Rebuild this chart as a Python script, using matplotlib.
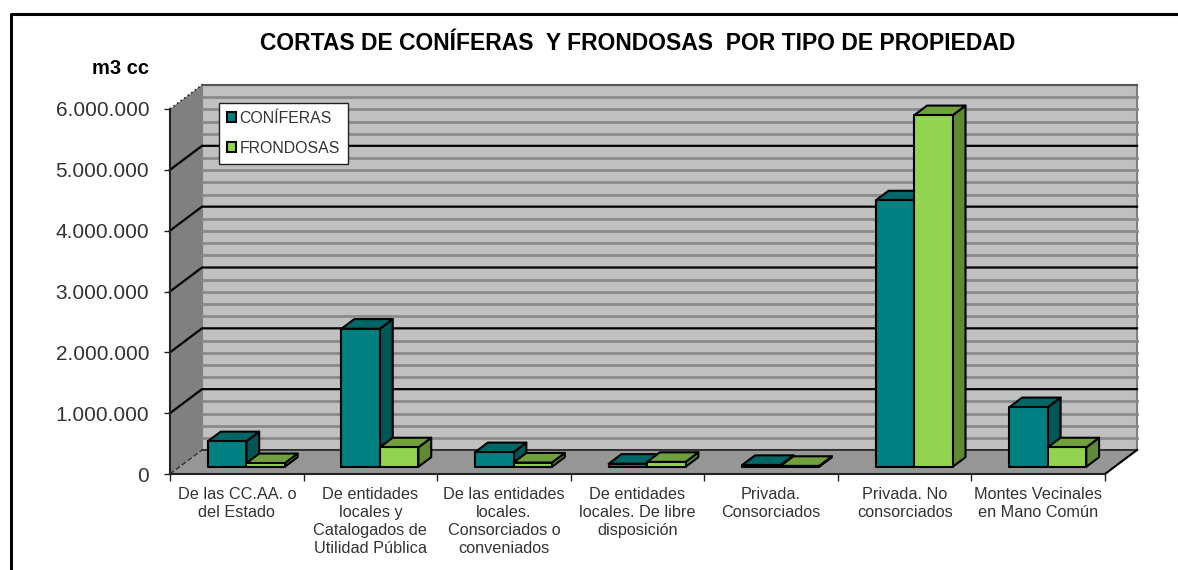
import matplotlib
matplotlib.use('Agg')
import matplotlib.pyplot as plt
from matplotlib.patches import Polygon

categorias = ['De las CC.AA. o\ndel Estado',
              'De entidades\nlocales y\nCatalogados de\nUtilidad Pública',
              'De las entidades\nlocales.\nConsorciados o\nconveniados',
              'De entidades\nlocales. De libre\ndisposición',
              'Privada.\nConsorciados',
              'Privada. No\nconsorciados',
              'Montes Vecinales\nen Mano Común']
coniferas = [420000, 2270000, 240000, 50000, 30000, 4380000, 980000]
frondosas = [60000, 320000, 70000, 80000, 15000, 5780000, 320000]
ticks = [0, 1000000, 2000000, 3000000, 4000000, 5000000, 6000000]
tick_labels = ['0', '1.000.000', '2.000.000', '3.000.000', '4.000.000', '5.000.000', '6.000.000']

W, H = 1178, 570
plt.rcParams['font.family'] = ['Liberation Sans', 'DejaVu Sans']

fig = plt.figure(figsize=(W / 100, H / 100), dpi=100)
# eje frontal en pixeles: x 170-1105, y 109-474
ax = fig.add_axes([170 / W, 1 - 474 / H, 935 / W, 365 / H])
ax.set_xlim(0, 7)
ax.set_ylim(0, 6000000)
ax.patch.set_visible(False)

# profundidad total del grafico 3D en unidades de datos
dx = 32 / 935 * 7
dy = 24 / 365 * 6000000


def p(x, y, d):
    return (x + d * dx, y + d * dy)


def poly(pts, **kw):
    ax.add_patch(Polygon(pts, closed=True, clip_on=False, **kw))


# paredes y suelo
poly([p(0, 0, 0), p(0, 0, 1), p(0, 6000000, 1), p(0, 6000000, 0)], fc='#808080', ec='none', zorder=1)
poly([p(0, 0, 1), p(7, 0, 1), p(7, 6000000, 1), p(0, 6000000, 1)], fc='#C0C0C0', ec='#808080', lw=1.5, zorder=1)
poly([p(0, 0, 0), p(7, 0, 0), p(7, 0, 1), p(0, 0, 1)], fc='#969696', ec='none', zorder=1)

# rejilla menor cada 200.000 y mayor cada millon
for v in range(200000, 6000000, 200000):
    if v % 1000000:
        a, b = p(0, v, 1), p(7, v, 1)
        ax.plot([a[0], b[0]], [a[1], b[1]], color='#8A8A8A', lw=2, zorder=2, clip_on=False)
for v in ticks[1:-1]:
    a, b, c = p(0, v, 0), p(0, v, 1), p(7, v, 1)
    ax.plot([a[0], b[0], c[0]], [a[1], b[1], c[1]], color='black', lw=1.6, zorder=3, clip_on=False)
a, b = p(0, 0, 1), p(7, 0, 1)
ax.plot([a[0], b[0]], [a[1], b[1]], color='#222222', lw=1.2, zorder=3, clip_on=False)
a, b, c = p(0, 6000000, 0), p(0, 6000000, 1), p(7, 6000000, 1)
ax.plot([a[0], b[0]], [a[1], b[1]], color='#222222', lw=1.2, ls=':', zorder=3, clip_on=False)
ax.plot([b[0], c[0]], [b[1], c[1]], color='#555555', lw=1.5, zorder=3, clip_on=False)
a, b = p(0, 0, 0), p(0, 0, 1)
ax.plot([a[0], b[0]], [a[1], b[1]], color='#333333', lw=1, ls='--', zorder=3, clip_on=False)
a, b = p(7, 0, 0), p(7, 0, 1)
ax.plot([a[0], b[0]], [a[1], b[1]], color='black', lw=1.5, zorder=3, clip_on=False)

# barras con caras frontal, superior y lateral
ancho = 0.288
d0, d1 = 0.30, 0.70
colores = [('#008080', '#006666', '#005555'), ('#92D450', '#6FA03C', '#5F8A33')]
for i in range(len(categorias)):
    for j, serie in enumerate([coniferas, frondosas]):
        v = serie[i]
        x0 = i + 0.5 - ancho + j * ancho
        x1 = x0 + ancho
        base, top, side = colores[j]
        z = 5 + i * 3 + j * 3
        kw = dict(ec='black', lw=1.5, joinstyle='round')
        poly([p(x1, 0, d0), p(x1, 0, d1), p(x1, v, d1), p(x1, v, d0)], fc=side, zorder=z, **kw)
        poly([p(x0, v, d0), p(x1, v, d0), p(x1, v, d1), p(x0, v, d1)], fc=top, zorder=z, **kw)
        poly([p(x0, 0, d0), p(x1, 0, d0), p(x1, v, d0), p(x0, v, d0)], fc=base, zorder=z + 1, **kw)

# ejes
for s in ['top', 'right']:
    ax.spines[s].set_visible(False)
ax.spines['left'].set_color('#222222')
ax.spines['left'].set_linewidth(1.5)
ax.spines['left'].set_zorder(4)
ax.spines['bottom'].set_color('#222222')
ax.spines['bottom'].set_linewidth(1.5)
ax.spines['bottom'].set_zorder(4)
ax.set_yticks(ticks)
ax.set_yticklabels(tick_labels, fontsize=15, color='#333333')
ax.set_xticks(range(8))
ax.set_xticklabels([])
ax.tick_params(axis='y', length=4, width=1, pad=11, color='#222222')
ax.tick_params(axis='x', length=5, width=1, color='#222222')
for i, c in enumerate(categorias):
    ax.annotate(c, (i + 0.5, 0), xytext=(0, -9.5), textcoords='offset points', ha='center', va='top',
                fontsize=11.7, color='#333333', linespacing=1.24, annotation_clip=False)

# leyenda
leg_handles = [plt.Rectangle((0, 0), 1, 1, fc='#008080', ec='black', lw=1.5),
               plt.Rectangle((0, 0), 1, 1, fc='#92D450', ec='black', lw=1.5)]
leg = fig.legend(leg_handles, ['CONÍFERAS', 'FRONDOSAS'], loc='upper left',
                 bbox_to_anchor=(219 / W, 1 - 103 / H), bbox_transform=fig.transFigure,
                 fontsize=11.4, frameon=True, fancybox=False, edgecolor='#222222', framealpha=1,
                 handlelength=0.6, handleheight=0.6, handletextpad=0.2, labelspacing=0.95,
                 borderpad=0.5, borderaxespad=0, labelcolor='#333333')
leg.get_frame().set_linewidth(1)
leg.set_zorder(50)

# titulos
fig.text(638 / W, 1 - 44 / H, 'CORTAS DE CONÍFERAS  Y FRONDOSAS  POR TIPO DE PROPIEDAD',
         ha='center', va='center', fontsize=16.5, fontweight='bold', color='black')
fig.text(149 / W, 1 - 69 / H, 'm3 cc', ha='right', va='center', fontsize=14.5, fontweight='bold', color='black')

# marco exterior
fig.add_artist(plt.Line2D([11 / W, 11 / W, 1], [0, 1 - 14 / H, 1 - 14 / H], color='black', lw=2.2))

fig.savefig('out.png', dpi=100)
